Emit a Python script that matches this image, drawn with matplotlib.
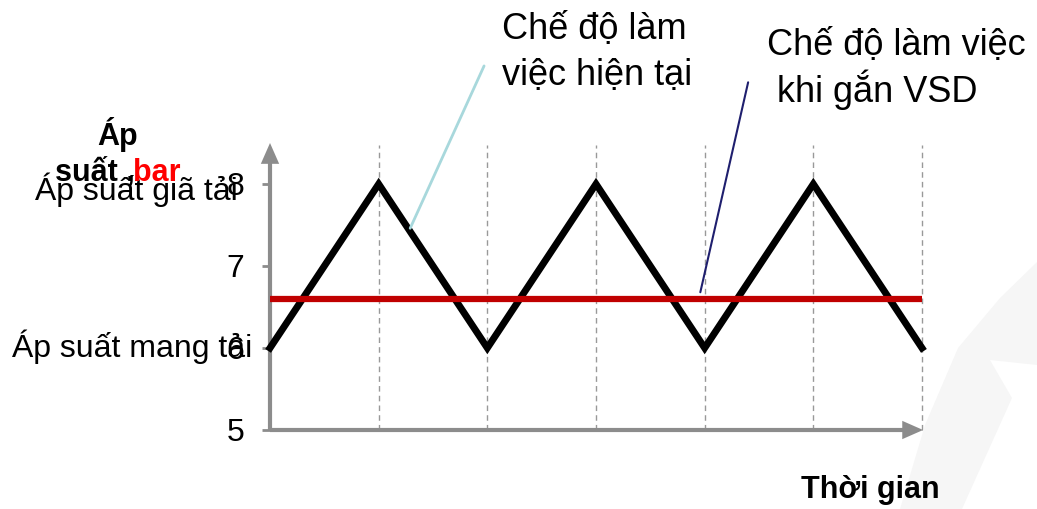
import matplotlib.pyplot as plt
from matplotlib.patches import Polygon

plt.rcParams['font.family'] = ['Liberation Sans', 'DejaVu Sans']

# dữ liệu
thoi_gian = [0, 1, 2, 3, 4, 5, 6]
ap_suat_hien_tai = [6, 8, 6, 8, 6, 8, 6]
ap_suat_vsd = 6.6
y_ticks = [5, 6, 7, 8]
y_tick_labels = ['5', '6', '7', '8']

W, H = 1037, 509
fig = plt.figure(figsize=(W / 100, H / 100), dpi=100)

# vệt mờ nền (watermark) góc dưới phải
pts = [(900, 509), (925, 425), (958, 348), (1000, 298), (1037, 262), (1037, 365),
       (990, 360), (1012, 398), (962, 509)]
swoosh = Polygon([(x / W, 1 - y / H) for x, y in pts], closed=True,
                 transform=fig.transFigure, facecolor='#f6f6f6', edgecolor='none', zorder=0)
fig.patches.append(swoosh)

ax = fig.add_axes([270 / W, 79 / H, 652 / W, 287 / H])
ax.patch.set_alpha(0)
ax.set_xlim(0, 6)
ax.set_ylim(5, 8.5)
for s in ax.spines.values():
    s.set_visible(False)

gray = '#8c8c8c'

# đường gạch dọc
for x in thoi_gian[1:]:
    ax.plot([x, x], [5, 8.48], color='#999999', lw=1, dashes=(4, 3), clip_on=False, zorder=1)

# trục có mũi tên
ax.plot([0, 0], [5, 8.35], color=gray, lw=3, solid_capstyle='butt', clip_on=False, zorder=2)
ax.plot([0, 5.9], [5, 5], color=gray, lw=3, solid_capstyle='butt', clip_on=False, zorder=2)
head = dict(arrowstyle='-|>,head_length=0.75,head_width=0.33', fc=gray, ec=gray, lw=0,
            mutation_scale=20, shrinkA=0, shrinkB=0)
ax.annotate('', xy=(0, 8.5), xytext=(0, 8.2), annotation_clip=False, arrowprops=head)
ax.annotate('', xy=(6.01, 5), xytext=(5.8, 5), annotation_clip=False, arrowprops=head)

ax.plot(thoi_gian, ap_suat_hien_tai, color='black', lw=5, solid_joinstyle='miter',
        clip_on=False, zorder=3)
ax.plot([thoi_gian[0], thoi_gian[-1]], [ap_suat_vsd, ap_suat_vsd], color='#c00000', lw=4.5,
        solid_capstyle='butt', zorder=4)

ax.set_xticks([])
ax.set_yticks(y_ticks)
ax.set_yticklabels(y_tick_labels)
ax.tick_params(axis='y', length=5.5, width=2, color=gray, pad=13, labelsize=23)

# đường chú thích
ax.annotate('', xy=(1.29, 7.46), xytext=(1.97, 9.44), annotation_clip=False,
            arrowprops=dict(arrowstyle='-', color='#a8d8dc', lw=2, shrinkA=0, shrinkB=0))
ax.annotate('', xy=(3.96, 6.68), xytext=(4.40, 9.24), annotation_clip=False,
            arrowprops=dict(arrowstyle='-', color='#1f1f6e', lw=1.5, shrinkA=0, shrinkB=0))

fs = 26
fig.text(502 / W, 1 - 30 / H, 'Chế độ làm', fontsize=fs, va='center', ha='left')
fig.text(502 / W, 1 - 75 / H, 'việc hiện tại', fontsize=fs, va='center', ha='left')
fig.text(767 / W, 1 - 45 / H, 'Chế độ làm việc', fontsize=fs, va='center', ha='left')
fig.text(777 / W, 1 - 90 / H, 'khi gắn VSD', fontsize=fs, va='center', ha='left')

fig.text(35 / W, 1 - 190 / H, 'Áp suất giã tải', fontsize=23, va='center', ha='left')
fig.text(12 / W, 1 - 347 / H, 'Áp suất mang tải', fontsize=23, va='center', ha='left')

fig.text(118 / W, 1 - 135 / H, 'Áp', fontsize=22, fontweight='bold', va='center', ha='center')
fig.text(55 / W, 1 - 173 / H, 'suất ,', fontsize=22, fontweight='bold', va='center', ha='left')
fig.text(133 / W, 1 - 173 / H, 'bar', fontsize=22, fontweight='bold', color='red',
         va='center', ha='left')

fig.text(870 / W, 1 - 490 / H, 'Thời gian', fontsize=22, fontweight='bold', va='center', ha='center')

fig.savefig('out.png', dpi=100)
